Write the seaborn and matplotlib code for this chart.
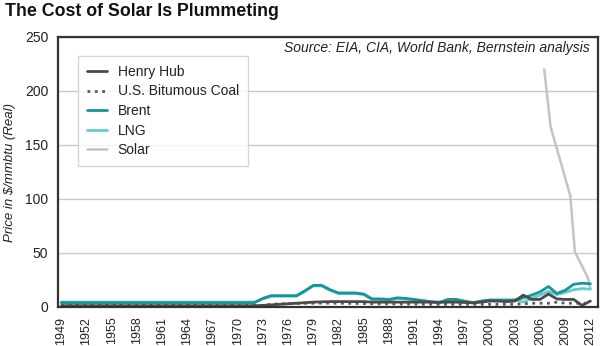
import matplotlib
matplotlib.use("Agg")
import matplotlib.pyplot as plt
import seaborn as sns
import pandas as pd
from matplotlib.lines import Line2D

# ---- data ($/mmbtu, real) ----
years = list(range(1949, 2013))

henry_hub = ([1.2] * 24 +                     # 1949-1972
             [1.5, 2.0, 2.5, 3.0, 3.5, 4.0, 4.5, 4.8, 5.0, 5.0,   # 1973-1982
              5.0, 5.0, 5.0, 4.5, 4.5, 4.5, 4.5, 4.5, 4.5, 4.5,   # 1983-1992
              4.5, 4.5, 4.5, 4.5, 4.2, 4.0, 4.5, 5.5, 5.5, 5.0,   # 1993-2002
              5.5, 11.0, 7.0, 7.0, 12.0, 7.5, 7.0, 7.0, 1.5, 5.5])  # 2003-2012

coal = ([1.5] * 24 +
        [1.5, 2.5, 3.0, 3.0, 3.2, 3.4, 3.5, 3.6, 3.6, 3.5,
         3.4, 3.3, 3.2, 3.0, 3.0, 2.9, 2.8, 2.8, 2.7, 2.6,
         2.6, 2.5, 2.5, 2.5, 2.5, 2.5, 2.5, 2.5, 2.5, 2.5,
         2.5, 3.0, 3.5, 3.5, 3.5, 4.5, 3.5, 3.5, 3.5, 3.5])

brent = ([4.0] * 24 +
         [8.0, 10.5, 10.5, 10.5, 10.5, 15.0, 20.0, 20.0, 16.0, 13.0,
          13.0, 13.0, 12.0, 7.5, 7.5, 7.0, 8.5, 8.0, 7.0, 6.0,
          5.0, 4.0, 7.0, 7.0, 5.5, 4.0, 5.5, 6.5, 6.5, 6.5,
          6.5, 8.5, 11.0, 14.0, 19.0, 12.5, 15.5, 21.0, 22.0, 21.5])

lng = ([4.6] * 24 +
       [7.5, 10.0, 10.0, 10.0, 10.0, 14.5, 19.5, 19.5, 15.5, 12.5,
        12.5, 12.5, 11.5, 7.0, 7.0, 6.5, 8.0, 7.5, 6.5, 5.5,
        4.5, 3.5, 6.5, 6.5, 5.0, 3.5, 5.0, 6.0, 6.0, 6.0,
        6.5, 4.5, 8.0, 11.0, 14.5, 11.5, 13.5, 16.0, 17.0, 16.5])

solar_years = [2006.5, 2007.25, 2009.6, 2010.15, 2011.7, 2012.0]
solar = [220, 167, 103, 51, 27, 17]

series_names = ["Henry Hub", "U.S. Bitumous Coal", "Brent", "LNG", "Solar"]
colors = {"Henry Hub": "#4a4a4a", "U.S. Bitumous Coal": "#5a5a5a",
          "Brent": "#17959b", "LNG": "#62cccc", "Solar": "#c4c4c4"}
styles = {"Henry Hub": "-", "U.S. Bitumous Coal": ":", "Brent": "-",
          "LNG": "-", "Solar": "-"}

frames = {
    "Henry Hub": pd.DataFrame({"year": years, "price": henry_hub}),
    "U.S. Bitumous Coal": pd.DataFrame({"year": years, "price": coal}),
    "Brent": pd.DataFrame({"year": years, "price": brent}),
    "LNG": pd.DataFrame({"year": years, "price": lng}),
    "Solar": pd.DataFrame({"year": solar_years, "price": solar}),
}

sns.set_theme(style="white")
plt.rcParams["font.family"] = ["Liberation Sans", "DejaVu Sans"]

fig = plt.figure(figsize=(6.02, 3.46), dpi=100)
ax = fig.add_axes([58 / 602, 1 - 307 / 346, 540 / 602, 270 / 346])

draw_order = ["Solar", "LNG", "Brent", "U.S. Bitumous Coal", "Henry Hub"]
widths = {"Henry Hub": 2.0, "U.S. Bitumous Coal": 2.0, "Brent": 2.0,
          "LNG": 2.0, "Solar": 1.8}
for name in draw_order:
    df = frames[name]
    sns.lineplot(data=df, x="year", y="price", ax=ax, color=colors[name],
                 linewidth=widths[name], linestyle=styles[name],
                 estimator=None, sort=False)

ax.set_xlim(1948.6, 2012.9)
ax.set_ylim(0, 250)
ax.set_xticks(list(range(1949, 2013, 3)))
ax.set_xticklabels([str(y) for y in range(1949, 2013, 3)], rotation=90,
                   fontsize=9, color="#222222")
ax.set_yticks([0, 50, 100, 150, 200, 250])
ax.set_yticklabels(["0", "50", "100", "150", "200", "250"], fontsize=10,
                   color="#222222")
ax.tick_params(axis="both", length=0)
ax.tick_params(axis="y", pad=7)
ax.tick_params(axis="x", pad=7)
ax.set_xlabel("")
ax.set_ylabel("")

ax.yaxis.grid(True, color="#c9c9c9", linewidth=1.0)
ax.xaxis.grid(False)
ax.set_axisbelow(True)
for side in ["left", "bottom", "top", "right"]:
    ax.spines[side].set_color("#333333")
    ax.spines[side].set_linewidth(1.6)
    ax.spines[side].set_visible(True)

handles = [Line2D([0], [0], color=colors[n], linestyle=styles[n],
                  linewidth=widths[n]) for n in series_names]
leg = ax.legend(handles, series_names, loc="upper left",
                bbox_to_anchor=(0.037, 0.93), borderaxespad=0,
                fontsize=10, frameon=True, fancybox=False,
                handlelength=1.45, handletextpad=0.75, labelspacing=0.4,
                borderpad=0.65)
leg.get_frame().set_edgecolor("#cccccc")
leg.get_frame().set_linewidth(1.0)
for t in leg.get_texts():
    t.set_color("#222222")

ax.text(0.985, 0.959, "Source: EIA, CIA, World Bank, Bernstein analysis",
        transform=ax.transAxes, ha="right", va="center", fontsize=10,
        style="italic", color="#222222")

fig.text(5 / 602, 1 - 11 / 346, "The Cost of Solar Is Plummeting",
         ha="left", va="center", fontsize=12.8, fontweight="bold",
         color="#111111")
fig.text(10 / 602, 1 - 173 / 346, "Price in $/mmbtu (Real)", rotation=90,
         ha="center", va="center", fontsize=9.5, style="italic",
         color="#222222")

fig.savefig("out.png", dpi=100)
